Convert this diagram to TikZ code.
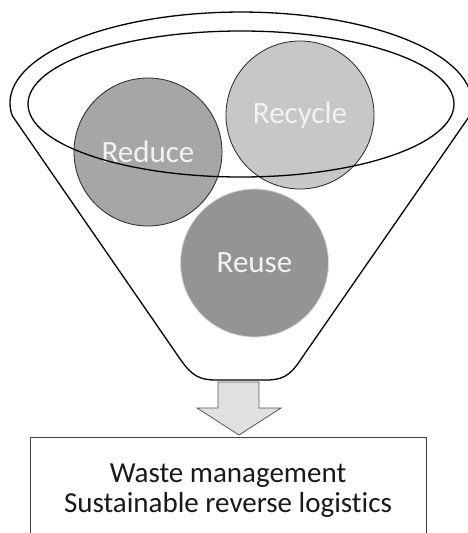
\documentclass[tikz,border=0pt]{standalone}
\usepackage{fontspec}
\setmainfont[Ligatures=NoCommon]{Carlito}
\begin{document}
\begin{tikzpicture}[x=1pt,y=-1pt,
  funnelline/.style={draw=black, line width=1.3pt},
  ball/.style={circle, minimum size=148pt, inner sep=0pt, text=white!95!black,
    font=\fontsize{31}{36}\selectfont},
  blockarrow/.style={draw=black!65, line width=0.8pt, fill=black!12},
  boxstyle/.style={draw=black!75, line width=0.9pt, fill=white},
  labeltext/.style={align=center, font=\fontsize{29}{30}\selectfont, text=black!90}]
\useasboundingbox (0,0) rectangle (467,533);
% funnel outline
\draw[funnelline, fill=white] (12.25,115.7)
  arc[start angle=188, end angle=-8, x radius=231pt, y radius=91pt]
  -- (300.4,360) .. controls (290,376) and (282,380) .. (266,380)
  -- (216,380) .. controls (200,380) and (192,376) .. (180.8,360) -- cycle;
% circles
\node[ball, fill=black!35, draw=black!85, line width=0.8pt] (reduce) at (148,152) {Reduce};
\node[ball, fill=black!22, draw=black!85, line width=0.8pt] (recycle) at (300,115) {Recycle};
\node[ball, fill=black!42, draw=white!85!black, line width=0.8pt] (reuse) at (254.5,263) {Reuse};
% inner rim
\draw[funnelline] (241,104) ellipse[x radius=213pt, y radius=73pt];
% box
\node[boxstyle, minimum width=396pt, minimum height=130pt, anchor=north] (box) at (228,437) {};
\node[labeltext, anchor=north] (label) at ([yshift=-23pt]box.north) {Waste management\\Sustainable reverse logistics};
% block arrow
\draw[blockarrow] (218,382) -- (259,382) -- (259,408) -- (281,408) -- (239,435)
  -- (197,408) -- (218,408) -- cycle;
\end{tikzpicture}
\end{document}
